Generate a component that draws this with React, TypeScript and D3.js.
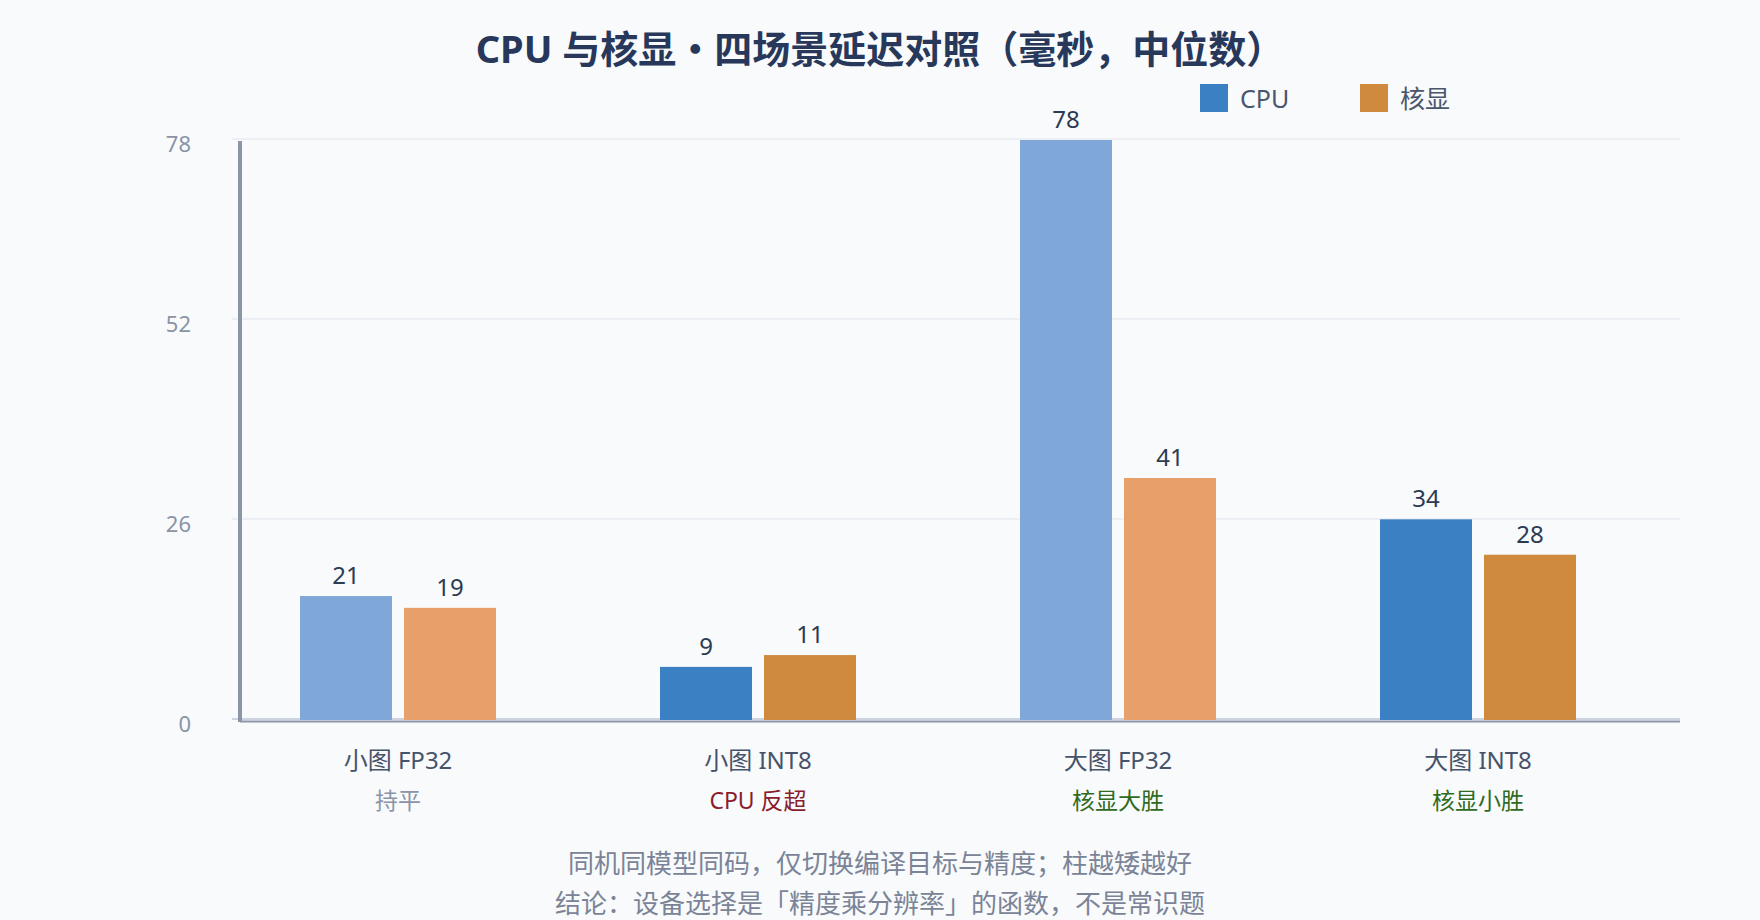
import React, { useEffect, useRef } from 'react';
import * as d3 from 'd3';

const scenarios = ['小图 FP32', '小图 INT8', '大图 FP32', '大图 INT8'];
const verdicts = ['持平', 'CPU 反超', '核显大胜', '核显小胜'];
const verdictColors = ['#8a94a6', '#8b1c2e', '#2f6a1f', '#2f6a1f'];
const emphasized = [false, true, false, true];

const seriesNames = ['CPU', '核显'];
const cpuMs = [21, 9, 78, 34];
const igpuMs = [19, 11, 41, 28];

const yTicks = [0, 26, 52, 78];

const colors = {
  strong: ['#3b80c3', '#cf8a3e'],
  faded: ['#7fa7d8', '#e8a06a'],
};

const FONT = "'Noto Sans', 'Noto Sans CJK SC', sans-serif";

export default function App() {
  const svgRef = useRef<SVGSVGElement>(null);

  useEffect(() => {
    if (!svgRef.current) return;
    const width = 1760;
    const height = 920;
    const left = 240;
    const right = 1680;
    const top = 140;
    const bottom = 720;

    const svg = d3.select(svgRef.current);
    svg.selectAll('*').remove();
    svg.attr('width', width).attr('height', height);

    svg.append('rect').attr('width', width).attr('height', height).attr('fill', '#f8fafc');

    // axis ticks sit on their own clamped scale, bars on a piecewise one (as in the source)
    const yAxisScale = d3.scaleLinear().domain([0, 75.4]).range([bottom, top]).clamp(true);
    const yBar = d3.scaleLinear().domain([0, 41, 78]).range([bottom, 478, top]);

    const x0 = d3
      .scaleBand<string>()
      .domain(scenarios)
      .range([left - 22, right - 22])
      .paddingInner(164 / 360)
      .paddingOuter(82 / 360);
    const x1 = d3
      .scaleBand<string>()
      .domain(seriesNames)
      .range([0, x0.bandwidth()])
      .paddingInner(12 / 104);

    // gridlines
    svg
      .append('g')
      .selectAll('line')
      .data(yTicks)
      .enter()
      .append('line')
      .attr('x1', left - 8)
      .attr('x2', right)
      .attr('y1', (d) => yAxisScale(d) - 1)
      .attr('y2', (d) => yAxisScale(d) - 1)
      .attr('stroke', (d) => (d === 0 ? '#cdd4df' : '#eceff3'))
      .attr('stroke-width', 2);

    svg
      .append('g')
      .selectAll('text')
      .data(yTicks)
      .enter()
      .append('text')
      .attr('x', 191)
      .attr('y', (d) => yAxisScale(d) + 12)
      .attr('text-anchor', 'end')
      .attr('font-family', FONT)
      .attr('font-size', 22)
      .attr('fill', '#8a94a6')
      .text((d) => d);

    const rows = scenarios.map((s, i) => ({
      scenario: s,
      i,
      values: [cpuMs[i], igpuMs[i]],
    }));

    const groups = svg
      .append('g')
      .selectAll('g')
      .data(rows)
      .enter()
      .append('g')
      .attr('transform', (d) => `translate(${x0(d.scenario)},0)`);

    const bars = groups
      .selectAll('g.bar')
      .data((d) =>
        d.values.map((v, k) => ({ v, k, series: seriesNames[k], strong: emphasized[d.i] }))
      )
      .enter()
      .append('g')
      .attr('class', 'bar');

    bars
      .append('rect')
      .attr('x', (d) => x1(d.series)!)
      .attr('y', (d) => yBar(d.v))
      .attr('width', x1.bandwidth())
      .attr('height', (d) => bottom - yBar(d.v))
      .attr('fill', (d) => (d.strong ? colors.strong[d.k] : colors.faded[d.k]));

    bars
      .append('text')
      .attr('x', (d) => x1(d.series)! + x1.bandwidth() / 2)
      .attr('y', (d) => yBar(d.v) - 12)
      .attr('text-anchor', 'middle')
      .attr('font-family', FONT)
      .attr('font-size', 24)
      .attr('fill', '#2c3a52')
      .text((d) => d.v);

    // axes lines
    svg
      .append('line')
      .attr('x1', left)
      .attr('x2', left)
      .attr('y1', top + 1)
      .attr('y2', bottom + 2)
      .attr('stroke', '#8b95a7')
      .attr('stroke-width', 4);
    svg
      .append('line')
      .attr('x1', left)
      .attr('x2', right)
      .attr('y1', bottom + 1.5)
      .attr('y2', bottom + 1.5)
      .attr('stroke', '#8b95a7')
      .attr('stroke-width', 2);

    // category labels
    const cats = svg
      .append('g')
      .selectAll('g')
      .data(rows)
      .enter()
      .append('g')
      .attr('transform', (d) => `translate(${x0(d.scenario)! + x0.bandwidth() / 2},0)`);
    cats
      .append('text')
      .attr('y', 769)
      .attr('text-anchor', 'middle')
      .attr('font-family', FONT)
      .attr('font-size', 24)
      .attr('fill', '#46536a')
      .text((d) => d.scenario);
    cats
      .append('text')
      .attr('y', 809)
      .attr('text-anchor', 'middle')
      .attr('font-family', FONT)
      .attr('font-size', 23)
      .attr('fill', (d) => verdictColors[d.i])
      .text((d) => verdicts[d.i]);

    // title
    svg
      .append('text')
      .attr('x', width / 2)
      .attr('y', 63)
      .attr('text-anchor', 'middle')
      .attr('font-family', FONT)
      .attr('font-size', 38)
      .attr('font-weight', 'bold')
      .attr('fill', '#27385a')
      .text('CPU 与核显・四场景延迟对照（毫秒，中位数）');

    // legend
    const legend = svg
      .append('g')
      .selectAll('g')
      .data(seriesNames)
      .enter()
      .append('g')
      .attr('transform', (_, i) => `translate(${1200 + i * 160},84)`);
    legend
      .append('rect')
      .attr('width', 28)
      .attr('height', 28)
      .attr('fill', (_, i) => colors.strong[i]);
    legend
      .append('text')
      .attr('x', 40)
      .attr('y', 24)
      .attr('font-family', FONT)
      .attr('font-size', 25)
      .attr('fill', '#4a566b')
      .text((d) => d);

    // caption
    const caption = [
      '同机同模型同码，仅切换编译目标与精度；柱越矮越好',
      '结论：设备选择是「精度乘分辨率」的函数，不是常识题',
    ];
    svg
      .append('g')
      .selectAll('text')
      .data(caption)
      .enter()
      .append('text')
      .attr('x', width / 2)
      .attr('y', (_, i) => 873 + i * 40)
      .attr('text-anchor', 'middle')
      .attr('font-family', FONT)
      .attr('font-size', 26)
      .attr('fill', '#7b8497')
      .text((d) => d);
  }, []);

  return (
    <div style={{ position: 'fixed', left: 0, top: 0 }}>
      <svg ref={svgRef} style={{ display: 'block' }} />
    </div>
  );
}
